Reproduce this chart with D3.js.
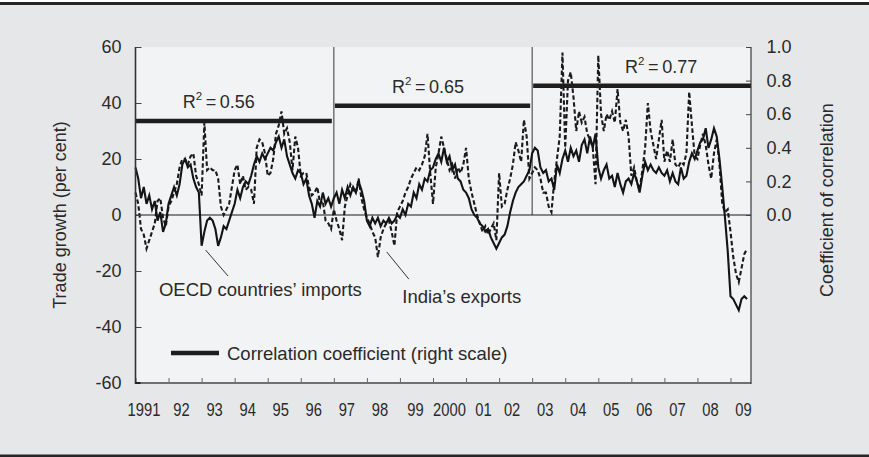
<!DOCTYPE html>
<html>
<head>
<meta charset="utf-8">
<script src="https://cdn.jsdelivr.net/npm/d3@7"></script>
<style>
  html, body { margin: 0; padding: 0; background: #ffffff; }
  svg { display: block; }
  text { font-family: "Liberation Sans", Arial, sans-serif; fill: #2a2a2a; }
</style>
</head>
<body>
<svg id="chart" width="869" height="457"></svg>
<script>
// Year-on-year growth, per cent, monthly from Jan 1991 to Jul 2009
const oecdImports = [
  17, 13, 6, 10, 4, 7, 2, 5, -2, 1, -6, -3,          // 1991
  4, 7, 10, 7, 11, 18, 20, 17, 18, 13, 10, 8,        // 1992
  -11, -6, -2, -1, -2, -5, -11, -8, -4, -5, -2, 1,   // 1993
  4, 9, 6, 10, 12, 11, 14, 18, 21, 19, 22, 20,       // 1994
  22, 24, 23, 26, 28, 24, 27, 21, 18, 15, 13, 16,    // 1995
  15, 11, 13, 7, 4, -1, 5, 3, 8, 4, 6, 3,            // 1996
  6, 8, 4, 9, 6, 10, 7, 10, 8, 12, 9, 5,             // 1997
  -2, -4, -1, -3, -1, -4, -2, -3, -1, -3, -2, 0,     // 1998
  -1, 2, 0, 4, 3, 8, 6, 11, 9, 13, 12, 16,           // 1999
  17, 20, 22, 19, 24, 19, 21, 16, 18, 13, 12, 9,     // 2000
  8, 6, 2, 0, -1, -3, -4, -6, -5, -8, -10, -12,      // 2001
  -10, -8, -7, -4, 1, 5, 8, 10, 11, 12, 14, 16,      // 2002
  22, 24, 23, 17, 15, 16, 12, 13, 9, 18, 15, 20,     // 2003
  23, 19, 24, 21, 23, 19, 25, 27, 22, 28, 24, 29,    // 2004
  17, 13, 16, 18, 13, 14, 10, 15, 11, 8, 12, 13,     // 2005
  11, 15, 12, 8, 14, 19, 16, 18, 16, 15, 17, 15,     // 2006
  14, 16, 12, 15, 12, 11, 17, 13, 14, 19, 22, 20,    // 2007
  23, 26, 27, 31, 24, 27, 31, 28, 20, 10, -1, -13,   // 2008
  -29, -30, -32, -34, -30, -29, -30                  // 2009
];

const indiaExports = [
  8, 4, -5, -7, -12, -9, -6, -3, 5, 6, -1, -4,       // 1991
  3, 5, 8, 11, 17, 20, 20, 18, 21, 22, 14, 11,       // 1992
  7, 33, 16, 17, 16, 16, 13, 3, 0, 2, 4, 10,         // 1993
  16, 18, 11, 14, 9, 10, 9, 4, 24, 27, 26, 22,       // 1994
  14, 15, 20, 29, 32, 37, 29, 31, 26, 16, 28, 24,    // 1995
  14, 15, 15, 10, 7, 8, 10, 4, 5, -2, -3, -5,        // 1996
  2, -2, -5, -9, 3, 7, 11, 9, 8, 13, 6, 2,           // 1997
  -1, -3, -6, -8, -15, -8, -5, -3, -2, -6, -11, 1,   // 1998
  3, 5, 8, 10, 13, 15, 17, 16, 18, 21, 29, 15,       // 1999
  4, 17, 22, 28, 24, 20, 16, 18, 13, 17, 15, 18,     // 2000
  24, 13, 8, 4, 0, -3, -6, -4, -7, -5, -3, -9,       // 2001
  15, 3, 4, 9, 13, 18, 26, 23, 19, 34, 28, 13,       // 2002
  15, 17, 16, 13, 8, 8, 3, 1, 12, 20, 28, 58,        // 2003
  24, 48, 51, 42, 30, 37, 33, 35, 29, 27, 24, 11,    // 2004
  57, 36, 30, 36, 34, 37, 33, 45, 33, 30, 34, 28,    // 2005
  14, 17, 12, 9, 16, 24, 40, 30, 25, 20, 27, 34,     // 2006
  19, 23, 19, 27, 18, 17, 19, 18, 22, 44, 32, 21,    // 2007
  20, 25, 29, 25, 18, 13, 22, 27, 18, 4, 1, 2,       // 2008
  -6, -15, -21, -24, -19, -14, -12                   // 2009
];

// Correlation between the two series in each sub-period
const periodStart = [1991, 1997, 2003];
const periodEnd = [1997, 2003, 2009.62];
const correlation = [0.56, 0.65, 0.77];

const yearTicks = d3.range(1991, 2010);
const yearLabels = ["1991", "92", "93", "94", "95", "96", "97", "98", "99", "2000",
                    "01", "02", "03", "04", "05", "06", "07", "08", "09"];
const growthTicks = [-60, -40, -20, 0, 20, 40, 60];
const corrTicks = [0, 0.2, 0.4, 0.6, 0.8, 1.0];

// ---- layout ----
const svg = d3.select("#chart");
const W = 869, H = 457;
const plot = { left: 135.5, right: 751, top: 47, bottom: 383 };
const FS = 18;

const x = d3.scaleLinear().domain([1991, 2009.62]).range([plot.left, plot.right]);
const yL = d3.scaleLinear().domain([-60, 60]).range([plot.bottom, plot.top]);
const yR = d3.scaleLinear().domain([0, 1]).range([yL(0), plot.top]);

// page background and rules
svg.append("rect").attr("x", 0).attr("y", 0).attr("width", W).attr("height", H).attr("fill", "#e6e7e9");
svg.append("rect").attr("x", 0).attr("y", 0).attr("width", W).attr("height", 2).attr("fill", "#ffffff");
svg.append("rect").attr("x", 0).attr("y", 2).attr("width", W).attr("height", 3).attr("fill", "#262626");
svg.append("rect").attr("x", 0).attr("y", 454.5).attr("width", W).attr("height", 2.5).attr("fill", "#262626");

// plot panel
svg.append("rect")
  .attr("x", plot.left).attr("y", plot.top)
  .attr("width", plot.right - plot.left).attr("height", plot.bottom - plot.top)
  .attr("fill", "#f2f3f5");

// sub-period dividers, from the top down to the zero line
svg.append("g").selectAll("line")
  .data(periodStart.slice(1))
  .join("line")
  .attr("x1", d => x(d)).attr("x2", d => x(d))
  .attr("y1", plot.top).attr("y2", yL(0))
  .attr("stroke", "#555").attr("stroke-width", 1.2);

// zero line
svg.append("line")
  .attr("x1", plot.left).attr("x2", plot.right)
  .attr("y1", yL(0)).attr("y2", yL(0))
  .attr("stroke", "#1a1a1a").attr("stroke-width", 1.2);

// series
const dates = d3.range(oecdImports.length).map(i => 1991 + i / 12);
const line = d3.line().x((d, i) => x(dates[i])).y(d => yL(d));

svg.append("path")
  .datum(indiaExports)
  .attr("d", line)
  .attr("fill", "none")
  .attr("stroke", "#1a1a1a")
  .attr("stroke-width", 2.1)
  .attr("stroke-dasharray", "4.5,2.5");

svg.append("path")
  .datum(oecdImports)
  .attr("d", line)
  .attr("fill", "none")
  .attr("stroke", "#141414")
  .attr("stroke-width", 2.1);

// correlation levels (right scale)
svg.append("g").selectAll("line")
  .data(correlation)
  .join("line")
  .attr("x1", (d, i) => x(periodStart[i]) + (i ? 1 : 0))
  .attr("x2", (d, i) => x(periodEnd[i]) - (i < 2 ? 2 : 0))
  .attr("y1", d => yR(d)).attr("y2", d => yR(d))
  .attr("stroke", "#1e1e1e").attr("stroke-width", 4.5);

// R-squared labels
const labelYear = [1993.52, 1999.85, 2006.9];
const r2 = svg.append("g").selectAll("text")
  .data(correlation)
  .join("text")
  .attr("x", (d, i) => x(labelYear[i]))
  .attr("y", d => yR(d) - 13)
  .attr("text-anchor", "middle")
  .attr("font-size", FS);
r2.append("tspan").text("R");
r2.append("tspan").attr("font-size", 11.5).attr("dy", -7.5).text("2");
r2.append("tspan").attr("dy", 7.5).text(d => "\u2009=\u2009" + d.toFixed(2));

// axes
const plain = d => String(d);
const axisL = d3.axisLeft(yL).tickValues(growthTicks).tickSize(-6).tickPadding(14).tickFormat(plain);
const gL = svg.append("g").attr("transform", `translate(${plot.left},0)`).call(axisL);
const axisR = d3.axisRight(yR).tickValues(corrTicks).tickSize(-5).tickPadding(15.5).tickFormat(d => d.toFixed(1));
const gR = svg.append("g").attr("transform", `translate(${plot.right},0)`).call(axisR);
const axisB = d3.axisBottom(x).tickValues(yearTicks).tickSize(-5).tickPadding(20)
  .tickFormat((d, i) => yearLabels[i]);
const gB = svg.append("g").attr("transform", `translate(0,${plot.bottom})`).call(axisB);

[gL, gR, gB].forEach(g => {
  g.select(".domain").remove();
  g.selectAll(".tick line").attr("stroke", "#444").attr("stroke-width", 1);
  g.selectAll(".tick text").attr("font-size", FS).attr("fill", "#2a2a2a")
    .attr("font-family", "'Liberation Sans', Arial, sans-serif");
});
gB.selectAll(".tick line").attr("stroke", "#666");

// year labels sit inside each year's span, set in a condensed width
const labelNudge = { 1991: -4.5, 1999: 2.5, 2000: 3.5, 2001: 4.5 };
gB.selectAll(".tick text")
  .attr("font-size", 19)
  .attr("x", d => 12.5 + (labelNudge[d] || 0))
  .attr("textLength", (d, i) => yearLabels[i].length * 8.2)
  .attr("lengthAdjust", "spacingAndGlyphs");

// frame lines
svg.append("line").attr("x1", plot.left).attr("x2", plot.right)
  .attr("y1", plot.bottom).attr("y2", plot.bottom)
  .attr("stroke", "#707070").attr("stroke-width", 2);
svg.append("line").attr("x1", plot.left).attr("x2", plot.left)
  .attr("y1", plot.top).attr("y2", plot.bottom + 1)
  .attr("stroke", "#333").attr("stroke-width", 1.6);
svg.append("line").attr("x1", plot.left).attr("x2", plot.left + 5)
  .attr("y1", plot.bottom).attr("y2", plot.bottom)
  .attr("stroke", "#222").attr("stroke-width", 2);
svg.append("line").attr("x1", plot.right).attr("x2", plot.right)
  .attr("y1", plot.top).attr("y2", plot.bottom + 1)
  .attr("stroke", "#3a3a3a").attr("stroke-width", 1.2);

// axis titles
svg.append("text")
  .attr("transform", `translate(66,215) rotate(-90)`)
  .attr("text-anchor", "middle").attr("font-size", FS)
  .text("Trade growth (per cent)");
svg.append("text")
  .attr("transform", `translate(833,200) rotate(-90)`)
  .attr("text-anchor", "middle").attr("font-size", FS)
  .text("Coefficient of correlation");

// series annotations
svg.append("line")
  .attr("x1", x(1993.12)).attr("y1", yL(-12.5))
  .attr("x2", x(1993.8)).attr("y2", yL(-21.8))
  .attr("stroke", "#333").attr("stroke-width", 1);
svg.append("text")
  .attr("x", x(1991.71)).attr("y", yL(-29))
  .attr("font-size", 18.5)
  .text("OECD countries\u2019 imports");

svg.append("line")
  .attr("x1", x(1998.6)).attr("y1", yL(-13.2))
  .attr("x2", x(1999.27)).attr("y2", yL(-22.9))
  .attr("stroke", "#333").attr("stroke-width", 1);
svg.append("text")
  .attr("x", x(1999.07)).attr("y", yL(-31.3))
  .attr("font-size", 18.5)
  .text("India\u2019s exports");

// legend
const legendY = 353;
svg.append("line")
  .attr("x1", 171).attr("x2", 219)
  .attr("y1", legendY).attr("y2", legendY)
  .attr("stroke", "#1e1e1e").attr("stroke-width", 4.5);
svg.append("text")
  .attr("x", 227).attr("y", legendY + 6.5)
  .attr("font-size", 18.5)
  .text("Correlation coefficient (right scale)");
</script>
</body>
</html>
